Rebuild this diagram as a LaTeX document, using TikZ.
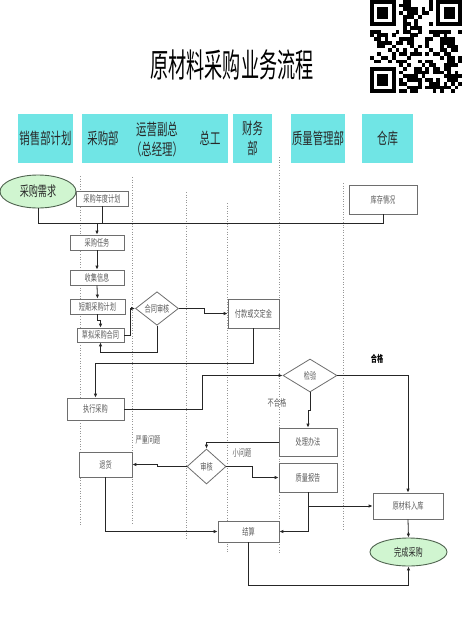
\documentclass[tikz,border=0pt]{standalone}
\usepackage{fontspec}
\setmainfont{Noto Sans CJK SC}[FakeStretch=0.65]
\newfontfamily\titlefont{Noto Sans CJK SC}[FakeStretch=0.55]
\usetikzlibrary{shapes.geometric,arrows.meta}
\definecolor{headcyan}{RGB}{112,229,229}
\definecolor{startgreen}{RGB}{208,245,208}
\definecolor{startline}{RGB}{80,100,80}
\definecolor{boxgray}{RGB}{110,110,110}
\definecolor{boxtext}{RGB}{90,90,90}
\definecolor{headtext}{RGB}{40,40,40}
\definecolor{lanegray}{RGB}{150,150,150}
\newcommand{\proc}[5]{node[box,minimum width=#1,minimum height=#2] (#3) at #4 {#5}}

\begin{document}
\begin{tikzpicture}[
      x=1pt,y=-1pt,
      box/.style={rectangle,draw=boxgray,fill=white,line width=0.7pt,inner sep=0pt,text=boxtext,font=\fontsize{9.5}{9.5}\selectfont},
      start/.style={ellipse,draw=startline,fill=startgreen,line width=0.9pt,inner sep=0pt,text=headtext},
      decide/.style={diamond,draw=boxgray,fill=white,line width=0.8pt,inner sep=0pt,text=boxtext,font=\fontsize{9.5}{9.5}\selectfont},
      head/.style={rectangle,fill=headcyan,inner sep=0pt,minimum height=49},
      htext/.style={text=headtext,font=\fontsize{16}{20}\selectfont,align=center,inner sep=0pt},
      lane/.style={draw=lanegray,dotted,line width=0.6pt},
      line/.style={draw=black!85,line width=0.8pt},
      arrow/.style={line,-{Latex[length=4pt,width=3.5pt]}},
      note/.style={text=boxtext,font=\fontsize{9.5}{9.5}\selectfont}
      ]
      \useasboundingbox (0,0) rectangle (465,641);
      \node[font=\titlefont\fontsize{33}{33}\selectfont] (title) at (232,65) {原材料采购业务流程};

      \pgfmathsetseed{42}
      \foreach \i in {0,...,24}
        \foreach \j in {0,...,24}{
          \pgfmathrandominteger{\qbit}{0}{1}
          \ifnum\qbit=1 \fill (370+\i*3.68,\j*3.72) rectangle ++(3.7,3.74);\fi
        }
      \foreach \fx/\fy in {370/0,436.24/0,370/66.96}{
        \fill[white] (\fx-3.68,\fy-3.72) rectangle ++(9*3.68,9*3.72);
        \fill (\fx,\fy) rectangle ++(7*3.68,7*3.72);
        \fill[white] (\fx+3.68,\fy+3.72) rectangle ++(5*3.68,5*3.72);
        \fill (\fx+2*3.68,\fy+2*3.72) rectangle ++(3*3.68,3*3.72);
      }

      \node[head,minimum width=55] (hsale) at (45.5,138.5) {};
      \node[head,minimum width=146] (hbuy) at (155,138.5) {};
      \node[head,minimum width=39] (hfin) at (252.5,138.5) {};
      \node[head,minimum width=54] (hqual) at (318,138.5) {};
      \node[head,minimum width=51] (hware) at (387.5,138.5) {};
      \node[htext] (tsale) at (hsale) {销售部计划};
      \node[htext] (tbuy) at (103,138.5) {采购部};
      \node[htext] (tvice) at (157,140) {运营副总\\（总经理）};
      \node[htext] (tchief) at (210,138.5) {总工};
      \node[htext] (tfin) at (hfin) {财务\\部};
      \node[htext] (tqual) at (hqual) {质量管理部};
      \node[htext] (tware) at (hware) {仓库};

      \foreach \lx/\ly/\lz in {80/176/525,132/177/525,186/192/538,227/203/552,279/157/553,343/183/530}
        \draw[lane] (\lx,\ly) -- (\lx,\lz);

      \node[start,minimum width=76,minimum height=33,font=\fontsize{14}{14}\selectfont] (need) at (38,191.5) {采购需求};
      \path \proc{52}{15}{plan}{(102,198.5)}{采购年度计划};
      \path \proc{68}{29}{stock}{(383,199.5)}{库存情况};
      \path \proc{54}{15}{task}{(97,242.5)}{采购任务};
      \path \proc{54}{15}{info}{(97,277.5)}{收集信息};
      \path \proc{55}{15}{short}{(97.5,306.5)}{短期采购计划};
      \path \proc{47}{14}{draft}{(100.5,335)}{草拟采购合同};
      \node[decide,minimum width=43,minimum height=31] (check) at (157,308.5) {合同审核};
      \path \proc{51}{29}{pay}{(253.5,313.5)}{付款或交定金};
      \path \proc{57}{22}{exec}{(95.5,409)}{执行采购};
      \node[decide,minimum width=54,minimum height=33] (insp) at (310,375.5) {检验};
      \path \proc{58}{28}{handle}{(308,442)}{处理办法};
      \path \proc{58}{29}{qrep}{(308,477.5)}{质量报告};
      \node[decide,minimum width=39,minimum height=35] (audit) at (206.5,466.5) {审核};
      \path \proc{53}{25}{back}{(105.5,464.5)}{退货};
      \path \proc{61}{21}{settle}{(248.5,531.5)}{结算};
      \path \proc{70}{26}{store}{(408,506)}{原材料入库};
      \node[start,minimum width=77,minimum height=28,font=\fontsize{11}{11}\selectfont] (done) at (408.5,552) {完成采购};

      \node[note] (lserious) at (148,440) {严重问题};
      \node[note] (lminor) at (242,453) {小问题};
      \node[note] (lfail) at (277,403) {不合格};
      \node[note,text=black,font=\bfseries\fontsize{9.5}{9.5}\selectfont] (lpass) at (377,359) {合格};

      \coordinate (busL) at (38,223);
      \coordinate (busR) at (383,223);
      \draw[line] (need.south) -- (busL) -- (busR) -- (stock.south);
      \draw[line] (plan.south) -- (plan.south |- busL);
      \draw[arrow] (task.north |- busL) -- (task.north);
      \draw[arrow] (task.south) -- (info.north);
      \draw[arrow] (info.south) -- (short.north);
      \draw[arrow] (short.south) -- ++(0,6) -| (draft.north);
      \draw[arrow] (draft.east) -- ++(6,0) |- (check.west);
      \draw[arrow] (check.south) -- ++(0,27) -| (draft.south);
      \draw[arrow] (check.east) -- ++(25,0) |- (pay.west);
      \draw[arrow] (pay.south) -- ++(0,35) -| (exec.north);
      \draw[arrow] (exec.east) -- ++(78,0) |- (insp.west);
      \draw[arrow] (insp.east) -| (store.north);
      \draw[arrow] (insp.south) -- ++(0,18) -| (handle.north);
      \draw[arrow] (handle.west) -| (audit.north);
      \draw[arrow] (audit.east) -- ++(26,0) |- (qrep.west);
      \draw[arrow] (audit.west) -- ++(-29,0) |- (back.east);
      \draw[arrow] (back.south) |- (settle.west);
      \draw[arrow] (qrep.south) |- (settle.east);
      \draw[arrow] (qrep.south |- store.west) -- (store.west);
      \draw[arrow] (store.south) -- (done.north);
      \draw[arrow] (settle.south) -- ++(0,43) -| (done.south);
    \end{tikzpicture}
\end{document}
